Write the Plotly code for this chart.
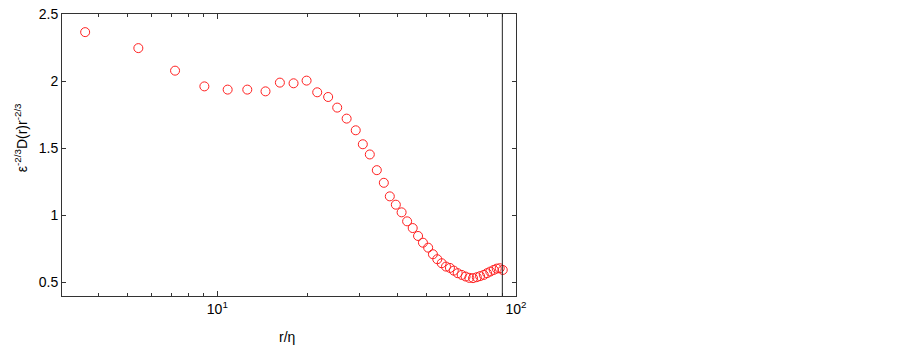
import plotly.graph_objects as go

r_eta = [3.61, 5.44, 7.22, 9.05, 10.83, 12.6, 14.5, 16.2, 18.0, 19.9,
         21.6, 23.5, 25.2, 27.1, 29.07, 30.7, 32.4, 34.2, 36.1, 37.8,
         39.6, 41.4, 43.2, 45.1, 47.0, 48.8, 50.8, 52.7, 54.5, 56.4,
         58.3, 60.1, 61.9, 63.8, 65.8, 67.8, 69.8, 71.8, 73.9, 75.8,
         78.0, 80.0, 82.0, 84.2, 86.2, 88.2, 90.3]
d_comp = [2.365, 2.246, 2.078, 1.961, 1.937, 1.937, 1.924, 1.989, 1.984, 2.004,
          1.917, 1.882, 1.803, 1.721, 1.634, 1.530, 1.454, 1.337, 1.243, 1.142,
          1.080, 1.023, 0.956, 0.906, 0.847, 0.797, 0.760, 0.711, 0.674, 0.644,
          0.619, 0.609, 0.589, 0.570, 0.557, 0.545, 0.535, 0.533, 0.540, 0.548,
          0.557, 0.570, 0.582, 0.594, 0.604, 0.607, 0.594]

x_major = [10, 100]
x_major_text = ["10<sup>1</sup>", "10<sup>2</sup>"]
x_minor = [4, 5, 6, 7, 8, 9, 20, 30, 40, 50, 60, 70, 80, 90]
y_ticks = [0.5, 1, 1.5, 2, 2.5]
y_tick_text = ["0.5", "1", "1.5", "2", "2.5"]
marker_line_x = 90

FONT = "Arial, Liberation Sans, sans-serif"

fig = go.Figure()
fig.add_trace(go.Scatter(
    x=r_eta, y=d_comp, mode="markers",
    marker=dict(symbol="circle-open", size=9, color="#ff2020",
                line=dict(width=1, color="#ff2020")),
    showlegend=False, cliponaxis=False,
))

fig.add_shape(type="line", xref="x", yref="paper",
              x0=marker_line_x, x1=marker_line_x, y0=0, y1=1,
              line=dict(color="#222222", width=1))

fig.update_layout(
    width=903, height=349,
    margin=dict(l=62, r=387, t=14, b=53, autoexpand=False),
    paper_bgcolor="white", plot_bgcolor="white",
    font=dict(family=FONT, size=14, color="black"),
    xaxis=dict(
        type="log", range=[0.48, 2.0],
        tickmode="array", tickvals=x_major, ticktext=x_major_text,
        ticks="inside", ticklen=5, tickwidth=1, tickcolor="#333",
        showline=True, linecolor="#333", linewidth=1, mirror="ticks",
        showgrid=False, zeroline=False,
        minor=dict(tickmode="array", tickvals=x_minor, ticks="inside",
                   ticklen=3, tickwidth=1, tickcolor="#333", showgrid=False),
        tickfont=dict(size=14),
    ),
    yaxis=dict(
        range=[0.4, 2.5],
        tickmode="array", tickvals=y_ticks, ticktext=y_tick_text,
        ticks="inside", ticklen=4, tickwidth=1, tickcolor="#333",
        showline=True, linecolor="#333", linewidth=1, mirror="ticks",
        showgrid=False, zeroline=False,
        tickfont=dict(size=14),
    ),
    annotations=[
        dict(text="r/η", xref="paper", yref="paper", x=0.495, y=-0.145,
             xanchor="center", yanchor="middle", showarrow=False,
             font=dict(size=14)),
        dict(text="ε<sup>-2/3</sup>D(r)r<sup>-2/3</sup>", xref="paper", yref="paper",
             x=-0.09, y=0.56, xanchor="center", yanchor="middle",
             textangle=-90, showarrow=False, font=dict(size=14)),
    ],
)

fig.write_html("out.html", config={"displayModeBar": False},
               post_script="document.body.style.margin='0';")
